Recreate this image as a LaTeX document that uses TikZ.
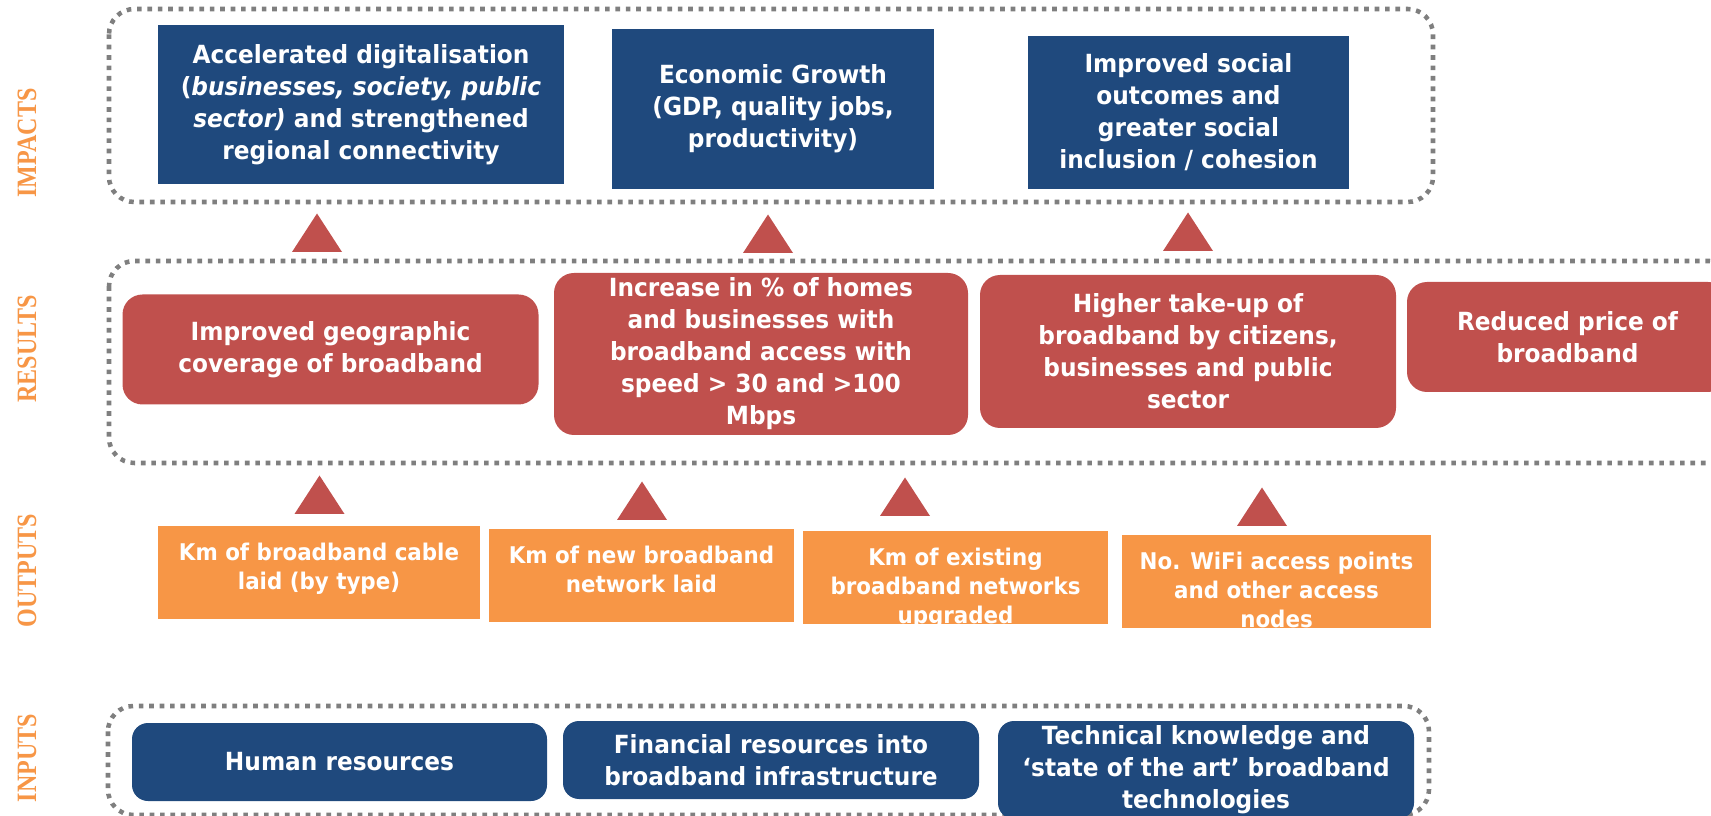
\documentclass[tikz,border=0pt]{standalone}
\usepackage{fontspec}
\setmainfont{DejaVu Sans}[FakeStretch=0.93]
\newfontfamily\stagefont{Liberation Serif}[FakeStretch=0.86]
\definecolor{impactblue}{HTML}{1F497D}
\definecolor{resultred}{HTML}{C0504D}
\definecolor{outputorange}{HTML}{F79646}
\definecolor{framegrey}{HTML}{7F7F7F}
\tikzset{
  pxsize/.style 2 args={minimum width=#1*0.75pt, minimum height=#2*0.75pt},
  stageframe/.style={draw=framegrey, line width=3.4pt, dash pattern=on 3.5pt off 4.3pt, rounded corners=19pt},
  stagelabel/.style={rotate=90, text=outputorange, inner sep=0pt,
    font=\stagefont\bfseries\fontsize{21pt}{21pt}\selectfont},
  boxtext/.style={text=white, align=center, inner sep=0pt,
    font=\bfseries\fontsize{18.75pt}{24pt}\selectfont},
  impactbox/.style={boxtext, fill=impactblue},
  resultbox/.style={boxtext, fill=resultred, rounded corners=15pt},
  inputbox/.style={boxtext, fill=impactblue, rounded corners=12pt},
  outputbox/.style={fill=outputorange, inner sep=0pt},
  outputtext/.style={text=white, align=center, inner sep=0pt, anchor=north,
    font=\bfseries\fontsize{17.25pt}{21.75pt}\selectfont},
  risetri/.pic={\fill[resultred] (-25,0) -- (25,0) -- (0,-38.5) -- cycle;}
}
\begin{document}
\begin{tikzpicture}[x=0.75pt, y=-0.75pt]
\useasboundingbox (0,0) rectangle (1711,816);
\clip (0,0) rectangle (1711,816);

% dotted stage frames
\draw[stageframe] (109,9) rectangle (1433,202);
\draw[stageframe] (109,261) rectangle (1735,463);
\draw[stageframe] (108,706) rectangle (1429,815);

% stage labels
\node[stagelabel] (lblimp) at (27,143) {IMPACTS};
\node[stagelabel] (lblres) at (27,349) {RESULTS};
\node[stagelabel] (lblout) at (27,570.5) {OUTPUTS};
\node[stagelabel] (lblin)  at (27,758) {INPUTS};

% impacts
\node[impactbox, pxsize={406}{159}] (imp1) at (361,104.5)
  {Accelerated digitalisation\\(\textit{businesses, society, public}\\\textit{sector)} and strengthened\\regional connectivity};
\node[impactbox, pxsize={322}{160}] (imp2) at (773,109)
  {Economic Growth\\(GDP, quality jobs,\\productivity)};
\node[impactbox, pxsize={321}{153}] (imp3) at (1188.5,112.5)
  {Improved social\\outcomes and\\greater social\\inclusion / cohesion};

% results
\node[resultbox, pxsize={416}{110}] (res1) at (330.5,349.5)
  {Improved geographic\\coverage of broadband};
\node[resultbox, pxsize={414}{162}] (res2) at (761,354)
  {Increase in \% of homes\\and businesses with\\broadband access with\\speed > 30 and >100\\Mbps};
\node[resultbox, pxsize={416}{153}] (res3) at (1188,351.5)
  {Higher take-up of\\broadband by citizens,\\businesses and public\\sector};
\node[resultbox, pxsize={321}{110}] (res4) at (1567.5,337)
  {Reduced price of\\broadband};

% outputs
\node[outputbox, pxsize={322}{93}] (out1) at (319,572.5) {};
\node[outputbox, pxsize={305}{93}] (out2) at (641.5,575.5) {};
\node[outputbox, pxsize={305}{93}] (out3) at (955.5,577.5) {};
\node[outputbox, pxsize={309}{93}] (out4) at (1276.5,581.5) {};
\begin{scope}
  \clip (out1.south west) rectangle (out1.north east);
  \node[outputtext] (out1t) at (319,543) {Km of broadband cable\\laid (by type)};
\end{scope}
\begin{scope}
  \clip (out2.south west) rectangle (out2.north east);
  \node[outputtext] (out2t) at (641.5,546) {Km of new broadband\\network laid};
\end{scope}
\begin{scope}
  \clip (out3.south west) rectangle (out3.north east);
  \node[outputtext] (out3t) at (955.5,548) {Km of existing\\broadband networks\\upgraded};
\end{scope}
\begin{scope}
  \clip (out4.south west) rectangle (out4.north east);
  \node[outputtext] (out4t) at (1276.5,552) {No. WiFi access points\\and other access\\nodes};
\end{scope}

% inputs
\node[inputbox, pxsize={415}{78}] (in1) at (339.5,762) {Human resources};
\node[inputbox, pxsize={416}{78}] (in2) at (771,760)
  {Financial resources into\\broadband infrastructure};
\node[inputbox, pxsize={416}{98}] (in3) at (1206,770)
  {Technical knowledge and\\‘state of the art’ broadband\\technologies};

% upward markers between stages
\pic at (317,252) {risetri};
\pic at (768,253) {risetri};
\pic at (1188,251) {risetri};
\pic at (319.5,514) {risetri};
\pic at (642,520) {risetri};
\pic at (905,516) {risetri};
\pic at (1262,526) {risetri};
\end{tikzpicture}
\end{document}
